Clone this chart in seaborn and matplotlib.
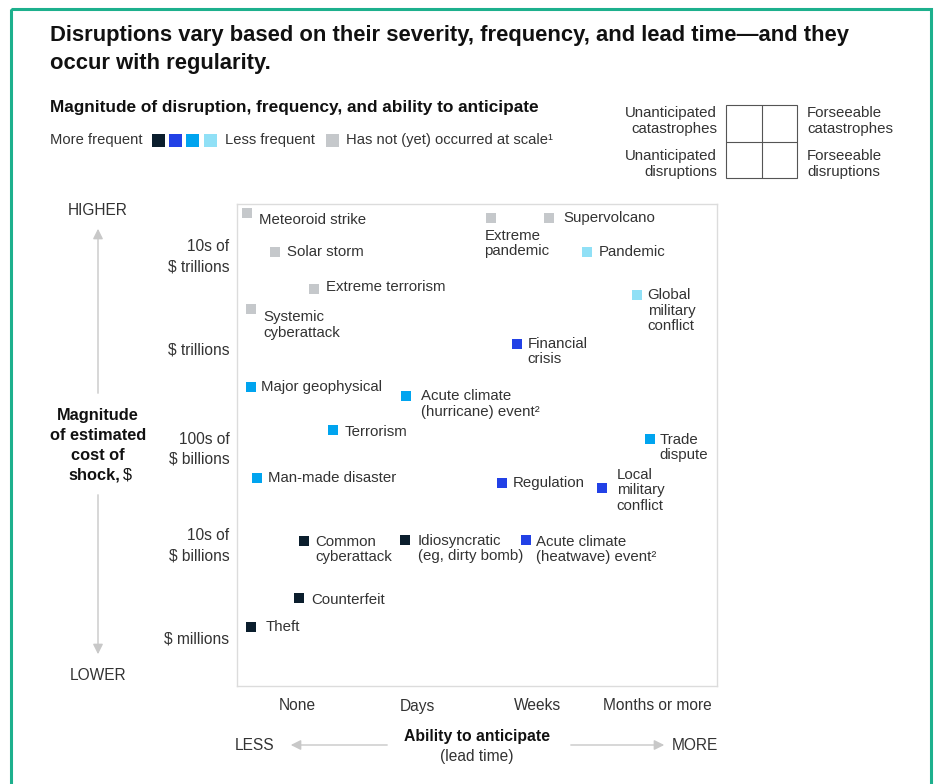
import seaborn as sns
import matplotlib.pyplot as plt
import pandas as pd
import numpy as np
from matplotlib.patches import Rectangle

# 数据：横轴 = 预警时间（0-4），纵轴 = 损失量级（0-5）
events = ["Meteoroid strike", "Solar storm", "Extreme terrorism", "Systemic\ncyberattack",
          "Extreme\npandemic", "Supervolcano", "Pandemic", "Global\nmilitary\nconflict",
          "Financial\ncrisis", "Major geophysical", "Acute climate\n(hurricane) event²",
          "Terrorism", "Trade\ndispute", "Man-made disaster", "Regulation",
          "Local\nmilitary\nconflict", "Common\ncyberattack", "Idiosyncratic\n(eg, dirty bomb)",
          "Acute climate\n(heatwave) event²", "Counterfeit", "Theft"]
lead_time = [0.08, 0.32, 0.64, 0.12, 2.12, 2.60, 2.92, 3.33, 2.33, 0.12, 1.41,
             0.80, 3.44, 0.17, 2.21, 3.04, 0.56, 1.40, 2.41, 0.52, 0.12]
magnitude = [4.91, 4.50, 4.12, 3.91, 4.85, 4.85, 4.50, 4.06, 3.55, 3.10, 3.01,
             2.66, 2.56, 2.16, 2.11, 2.05, 1.50, 1.51, 1.51, 0.91, 0.61]
frequency = ["none", "none", "none", "none", "none", "none", "f4", "f4", "f2", "f3", "f3",
             "f3", "f3", "f3", "f2", "f2", "f1", "f1", "f2", "f1", "f1"]

lead_labels = ["None", "Days", "Weeks", "Months or more"]
magnitude_labels = ["$ millions", "10s of\n$ billions", "100s of\n$ billions",
                    "$ trillions", "10s of\n$ trillions"]

palette = {"f1": "#0b1e2d", "f2": "#2241e6", "f3": "#00a4ef", "f4": "#90e0f6", "none": "#c5c8cb"}

df = pd.DataFrame({"event": events, "x": lead_time, "y": magnitude, "freq": frequency})

# 标签偏移（像素，向右 / 向下）
label_pos = {
    "Meteoroid strike": (12, 7), "Solar storm": (12, 0), "Extreme terrorism": (12, -2),
    "Systemic\ncyberattack": (12, 16), "Extreme\npandemic": (-7, 25), "Supervolcano": (14, 0),
    "Pandemic": (11, 0), "Global\nmilitary\nconflict": (11, 16), "Financial\ncrisis": (11, 8),
    "Major geophysical": (10, 0), "Acute climate\n(hurricane) event²": (15, 8),
    "Terrorism": (12, 2), "Trade\ndispute": (10, 8), "Man-made disaster": (11, 0),
    "Regulation": (11, 0), "Local\nmilitary\nconflict": (15, 2), "Common\ncyberattack": (11, 8),
    "Idiosyncratic\n(eg, dirty bomb)": (13, 8), "Acute climate\n(heatwave) event²": (10, 9),
    "Counterfeit": (12, 2), "Theft": (14, 0),
}

sns.set_theme(style="white")
plt.rcParams['font.family'] = ['Liberation Sans', 'DejaVu Sans']
TXT = "#333333"
DARK = "#111111"

fig = plt.figure(figsize=(9.35, 7.84), dpi=100)

# 背景装饰层，像素坐标
bg = fig.add_axes([0, 0, 1, 1], zorder=0)
bg.set_xlim(0, 935)
bg.set_ylim(784, 0)
bg.axis("off")

ax = fig.add_axes([237 / 935, 1 - 686 / 784, 480 / 935, 482 / 784], zorder=1)
sns.scatterplot(data=df, x="x", y="y", hue="freq", palette=palette, marker="s",
                s=52, linewidth=0, legend=False, ax=ax, zorder=3)

for ev, x, y in zip(events, lead_time, magnitude):
    dx, dy = label_pos[ev]
    ax.annotate(ev, (x, y), xytext=(dx * 0.72, -dy * 0.72), textcoords="offset points",
                ha="left", va="center", fontsize=10.8, color=TXT, linespacing=1.13)

ax.set_xlim(0, 4)
ax.set_ylim(0, 5)
ax.set_xticks(np.arange(4) + 0.5)
ax.set_xticklabels(lead_labels, fontsize=11.2, color=TXT)
ax.set_yticks(np.arange(5) + 0.5)
ax.set_yticklabels(magnitude_labels, fontsize=11.2, color=TXT, linespacing=1.45)
ax.set_xticks([1, 2, 3], minor=True)
ax.set_yticks([1, 2, 3, 4], minor=True)
ax.tick_params(which="major", length=0)
ax.tick_params(axis="x", which="major", pad=9)
ax.tick_params(axis="y", which="major", pad=5.5)
ax.tick_params(which="minor", direction="in", length=12, color="#dcdcdc", width=1)
ax.set_xlabel("")
ax.set_ylabel("")
for sp in ax.spines.values():
    sp.set_color("#dcdcdc")
    sp.set_linewidth(1)

# 标题
bg.text(50, 35, "Disruptions vary based on their severity, frequency, and lead time\u2014and they",
        fontsize=15.8, fontweight="bold", color=DARK, va="center")
bg.text(50, 63, "occur with regularity.", fontsize=15.8, fontweight="bold", color=DARK, va="center")

# 图例
bg.text(50, 107, "Magnitude of disruption, frequency, and ability to anticipate",
        fontsize=12.4, fontweight="bold", color=DARK, va="center")
bg.text(50, 140, "More frequent", fontsize=10.6, color=TXT, va="center")
for cx, key in zip([158.5, 175, 192.5, 210], ["f1", "f2", "f3", "f4"]):
    bg.add_patch(Rectangle((cx - 6.5, 133.5), 13, 13, color=palette[key], lw=0))
bg.text(225, 140, "Less frequent", fontsize=10.6, color=TXT, va="center")
bg.add_patch(Rectangle((325.5, 133.5), 13, 13, color=palette["none"], lw=0))
bg.text(346, 140, "Has not (yet) occurred at scale¹", fontsize=10.6, color=TXT, va="center")

# 象限示意
bg.add_patch(Rectangle((726, 105), 71, 73, fill=False, ec="#555555", lw=0.8))
bg.plot([762, 762], [105, 178], color="#555555", lw=0.8)
bg.plot([726, 797], [142, 142], color="#555555", lw=0.8)
quad = dict(va="center", fontsize=10.8, color=TXT, linespacing=1.15)
bg.text(717, 121, "Unanticipated\ncatastrophes", ha="right", **quad)
bg.text(717, 164, "Unanticipated\ndisruptions", ha="right", **quad)
bg.text(807, 121, "Forseeable\ncatastrophes", ha="left", **quad)
bg.text(807, 164, "Forseeable\ndisruptions", ha="left", **quad)

# 纵轴说明
arrow = dict(arrowstyle="-|>,head_length=0.5,head_width=0.25", color="#c8c8c8", lw=1)
bg.text(98, 210, "HIGHER", ha="center", va="center", fontsize=11.2, color=TXT)
bg.text(98, 675, "LOWER", ha="center", va="center", fontsize=11.2, color=TXT)
bg.annotate("", xy=(98, 226), xytext=(98, 396), arrowprops=arrow)
bg.annotate("", xy=(98, 657), xytext=(98, 492), arrowprops=arrow)
for yy, line in zip([415, 435, 455], ["Magnitude", "of estimated", "cost of"]):
    bg.text(98, yy, line, ha="center", va="center", fontsize=11.8, fontweight="bold", color=DARK)
bg.text(120, 475, "shock,", ha="right", va="center", fontsize=11.8, fontweight="bold", color=DARK)
bg.text(123, 475, "$", ha="left", va="center", fontsize=11.8, color=DARK)

# 横轴说明
bg.text(255, 745, "LESS", ha="center", va="center", fontsize=11.2, color=TXT)
bg.text(695, 745, "MORE", ha="center", va="center", fontsize=11.2, color=TXT)
bg.annotate("", xy=(288, 745), xytext=(390, 745), arrowprops=arrow)
bg.annotate("", xy=(667, 745), xytext=(568, 745), arrowprops=arrow)
bg.text(477, 737, "Ability to anticipate", ha="center", va="center", fontsize=11.3,
        fontweight="bold", color=DARK)
bg.text(477, 756, "(lead time)", ha="center", va="center", fontsize=11.2, color=TXT)

# 绿色边框
bg.add_patch(Rectangle((11, 9), 920, 800, fill=False, ec="#1db08d", lw=2.2, clip_on=False))

fig.savefig("out.png", dpi=100, facecolor="white")
